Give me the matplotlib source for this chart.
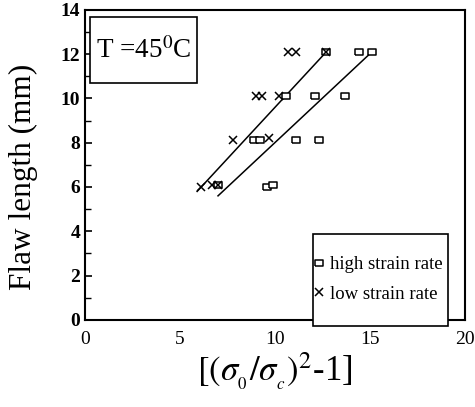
import matplotlib
matplotlib.use('Agg')
import matplotlib.pyplot as plt
from matplotlib.patches import Rectangle
from matplotlib.ticker import MultipleLocator

plt.rcParams['font.family'] = ['Liberation Serif', 'DejaVu Serif']
plt.rcParams['mathtext.fontset'] = 'stix'

# high strain rate (squares)
high_x = [12.7, 14.4, 15.1, 10.6, 12.1, 13.7, 8.9, 9.2, 11.1, 12.3, 7.0, 9.6, 9.9]
high_y = [12.1, 12.1, 12.1, 10.1, 10.1, 10.1, 8.1, 8.1, 8.1, 8.1, 6.1, 6.0, 6.1]

# low strain rate (crosses)
low_x = [10.7, 11.1, 12.7, 9.0, 9.3, 10.2, 7.8, 9.7, 6.1, 6.7, 7.0]
low_y = [12.1, 12.1, 12.1, 10.1, 10.1, 10.1, 8.1, 8.2, 6.0, 6.1, 6.1]

# fitted lines
low_fit_x = [5.9, 12.7]
low_fit_y = [5.8, 12.1]
high_fit_x = [7.0, 15.1]
high_fit_y = [5.6, 12.1]

# flat open rectangle marker
rect = [(-1.4, -1), (1.4, -1), (1.4, 1), (-1.4, 1), (-1.4, -1)]

fig = plt.figure(figsize=(4.75, 4.07), dpi=100)
ax = fig.add_axes([0.179, 0.214, 0.8, 0.762])

ax.plot(low_fit_x, low_fit_y, color='black', lw=1.1)
ax.plot(high_fit_x, high_fit_y, color='black', lw=1.1)
ax.plot(high_x, high_y, linestyle='none', marker=rect, markersize=6,
        markerfacecolor='white', markeredgecolor='black', markeredgewidth=1.1,
        label='high strain rate')
ax.plot(low_x, low_y, linestyle='none', marker='x', markersize=6,
        color='black', markeredgewidth=1.1, label='low strain rate')

ax.set_xlim(0, 20)
ax.set_ylim(0, 14)
ax.set_xticks([0, 5, 10, 15, 20])
ax.yaxis.set_major_locator(MultipleLocator(2))
ax.yaxis.set_minor_locator(MultipleLocator(1))
ax.tick_params(axis='both', which='both', direction='in', labelsize=14)
ax.tick_params(axis='y', which='major', length=5, width=1.2)
ax.tick_params(axis='y', which='minor', length=4, width=1.0)
ax.tick_params(axis='x', length=0, pad=8)
for lab in ax.get_yticklabels():
    lab.set_fontweight('bold')
for s in ax.spines.values():
    s.set_linewidth(1.5)

ax.set_ylabel('Flaw length (mm)', fontsize=22.5)
ax.yaxis.set_label_coords(-0.124, 0.46)
ax.set_xlabel(r'$[(\sigma_{_0}/\sigma_{_c})^2$-1]', fontsize=25, labelpad=2)

# temperature box
ax.add_patch(Rectangle((0.013, 0.765), 0.282, 0.212, transform=ax.transAxes,
                       facecolor='white', edgecolor='black', lw=1.2, zorder=3))
ax.text(0.154, 0.87, r'T =45$^0$C', transform=ax.transAxes, fontsize=19.5,
        va='center', ha='center', zorder=4)

# legend box hangs below the bottom spine
ax.add_patch(Rectangle((0.6, -0.019), 0.355, 0.296, transform=ax.transAxes,
                       facecolor='white', edgecolor='black', lw=1.2,
                       clip_on=False, zorder=3))
leg = ax.legend(loc='center left', bbox_to_anchor=(0.603, 0.13), fontsize=13.5,
                frameon=False, handlelength=0.5, handletextpad=0.35,
                borderpad=0.0, borderaxespad=0.0, labelspacing=0.65)
leg.set_zorder(4)

fig.savefig('out.png', dpi=100)
